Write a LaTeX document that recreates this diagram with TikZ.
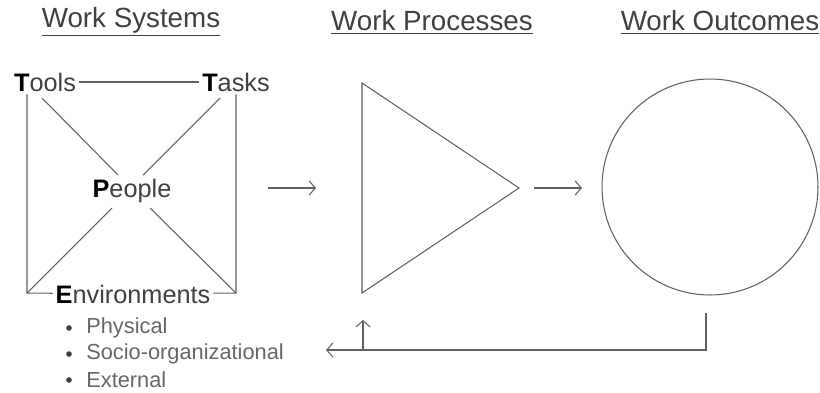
\documentclass[tikz,border=0pt]{standalone}
\usepackage{fontspec}
\setmainfont{Liberation Sans}
\usepackage{tikz}
\usetikzlibrary{calc, arrows.meta}
\definecolor{ln}{gray}{0.38}
\definecolor{tx}{gray}{0.25}
\tikzset{
  head/.style={text=tx, font=\fontsize{15.8}{18}\selectfont, inner sep=1pt},
  part/.style={text=tx, font=\fontsize{14.4}{17}\selectfont, inner sep=1.5pt},
  item/.style={text=tx!80, font=\fontsize{12.4}{14}\selectfont, anchor=west, inner sep=0pt},
  wire/.style={draw=ln, line width=0.6pt},
  flow/.style={wire, -{Straight Barb[length=3.5pt, width=8pt]}}
}
\begin{document}
\begin{tikzpicture}[x=0.02cm, y=-0.02cm]
\useasboundingbox (0,0) rectangle (820,392);
% headings
\foreach \x/\name/\txt in {131/hsys/Work Systems, 432/hproc/Work Processes, 720/hout/Work Outcomes}{
\node[head] (\name) at (\x,22) {\underline{\txt}};
}
% work system
\node[part] (tools) at (45,82) {\textbf{\color{black}T}ools};
\node[part] (tasks) at (236,82) {\textbf{\color{black}T}asks};
\node[part] (people) at (132,191) {\textbf{\color{black}P}eople};
\node[part] (env) at (133,294) {\textbf{\color{black}E}nvironments};
\coordinate (bl) at (27,293);
\coordinate (br) at (236,293);
\coordinate (tl) at (42,98);
\coordinate (tr) at (220,98);
\coordinate (pnw) at (118,175);
\coordinate (pne) at (143,175);
\coordinate (psw) at (112,208);
\coordinate (pse) at (150,208);
\draw[wire] (tools) -- (tasks);
\draw[wire] (tools.south -| bl) -- (bl) -- (env);
\draw[wire] (tasks.south -| br) -- (br) -- (env);
\draw[wire] (tl) -- (pnw);
\draw[wire] (tr) -- (pne);
\draw[wire] (psw) -- (bl);
\draw[wire] (pse) -- (br);
\foreach \y/\txt in {328/Physical, 354/Socio-organizational, 380/External}{
\node[item] at (86,\y) {\txt};
\fill[tx] (69,\y) circle(1.6pt);
}
% process and outcome
\draw[wire] (362,83) -- (362,293) -- (519,188) -- cycle;
\draw[wire] (710,187) circle (2.16cm);
\coordinate (a1) at (268,188);
\coordinate (a2) at (316,188);
\coordinate (b1) at (534,188);
\coordinate (b2) at (582,188);
\draw[flow] (a1) -- (a2);
\draw[flow] (b1) -- (b2);
% feedback
\coordinate (fb) at (706,313);
\coordinate (fl) at (326,350);
\coordinate (fu) at (363,320);
\draw[flow] (fb) |- (fl);
\draw[flow] (fu |- fl) -- (fu);
\end{tikzpicture}
\end{document}
